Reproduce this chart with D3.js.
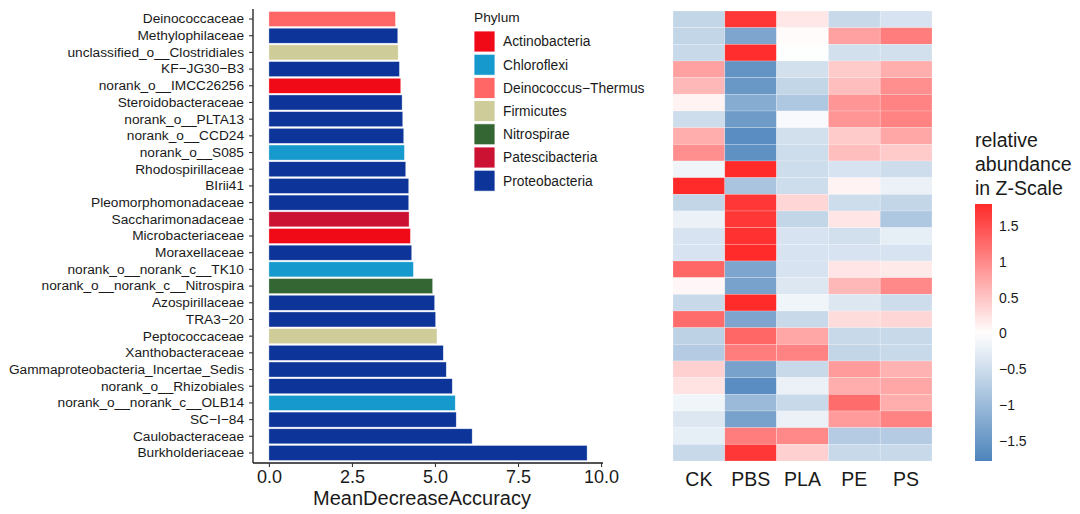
<!DOCTYPE html>
<html>
<head>
<meta charset="utf-8">
<script src="https://cdn.jsdelivr.net/npm/d3@7"></script>
<style>
  body { margin: 0; background: #fff; }
  text { font-family: "Liberation Sans", Arial, sans-serif; fill: #1a1a1a; }
</style>
</head>
<body>
<script>
// genera, top to bottom
const genera = ['Deinococcaceae', 'Methylophilaceae', 'unclassified_o__Clostridiales', 'KF-JG30-B3',
    'norank_o__IMCC26256', 'Steroidobacteraceae', 'norank_o__PLTA13', 'norank_o__CCD24', 'norank_o__S085',
    'Rhodospirillaceae', 'BIrii41', 'Pleomorphomonadaceae', 'Saccharimonadaceae', 'Microbacteriaceae',
    'Moraxellaceae', 'norank_o__norank_c__TK10', 'norank_o__norank_c__Nitrospira', 'Azospirillaceae',
    'TRA3-20', 'Peptococcaceae', 'Xanthobacteraceae', 'Gammaproteobacteria_Incertae_Sedis',
    'norank_o__Rhizobiales', 'norank_o__norank_c__OLB14', 'SC-I-84', 'Caulobacteraceae', 'Burkholderiaceae'];

const meanDecreaseAccuracy = [3.81, 3.88, 3.89, 3.93, 3.97, 4.01, 4.03, 4.06, 4.08, 4.12, 4.21, 4.21, 4.22, 4.26,
    4.30, 4.35, 4.93, 4.99, 5.02, 5.06, 5.25, 5.34, 5.52, 5.61, 5.64, 6.12, 9.58];

const phylumOf = ['Deinococcus-Thermus', 'Proteobacteria', 'Firmicutes', 'Proteobacteria', 'Actinobacteria',
    'Proteobacteria', 'Proteobacteria', 'Proteobacteria', 'Chloroflexi', 'Proteobacteria', 'Proteobacteria',
    'Proteobacteria', 'Patescibacteria', 'Actinobacteria', 'Proteobacteria', 'Chloroflexi', 'Nitrospirae',
    'Proteobacteria', 'Proteobacteria', 'Firmicutes', 'Proteobacteria', 'Proteobacteria', 'Proteobacteria',
    'Chloroflexi', 'Proteobacteria', 'Proteobacteria', 'Proteobacteria'];

const phyla = ['Actinobacteria', 'Chloroflexi', 'Deinococcus-Thermus', 'Firmicutes', 'Nitrospirae', 'Patescibacteria', 'Proteobacteria'];
const phylumColors = ['#F00A18', '#1699CC', '#FF6666', '#CECC99', '#336633', '#CC1233', '#0D3599'];

const groups = ['CK', 'PBS', 'PLA', 'PE', 'PS'];

// z-scores, one row per genus, columns CK PBS PLA PE PS
const zScores = [
    [-0.60, 1.70, 0.20, -0.55, -0.40],
    [-0.60, -1.30, 0.03, 0.80, 1.10],
    [-0.55, 1.78, -0.02, -0.45, -0.45],
    [0.80, -1.55, -0.45, 0.45, 0.70],
    [0.60, -1.50, -0.60, 0.55, 0.95],
    [0.10, -1.20, -0.80, 0.90, 1.05],
    [-0.50, -1.45, -0.08, 0.90, 1.05],
    [0.70, -1.65, -0.45, 0.45, 0.75],
    [0.95, -1.60, -0.50, 0.55, 0.45],
    [-0.15, 1.80, -0.50, -0.40, -0.50],
    [1.80, -0.85, -0.50, 0.10, -0.20],
    [-0.60, 1.70, 0.35, -0.50, -0.60],
    [-0.20, 1.70, -0.60, 0.22, -0.80],
    [-0.40, 1.75, -0.40, -0.45, -0.25],
    [-0.40, 1.80, -0.40, -0.40, -0.40],
    [1.30, -1.30, -0.40, 0.22, 0.18],
    [0.07, -1.35, -0.35, 0.60, 1.00],
    [-0.55, 1.80, -0.15, -0.35, -0.50],
    [1.25, -1.30, -0.55, 0.30, 0.35],
    [-0.65, 1.30, 0.75, -0.55, -0.55],
    [-0.75, 1.10, 1.05, -0.60, -0.55],
    [0.40, -1.35, -0.55, 0.85, 0.65],
    [0.25, -1.65, -0.20, 0.70, 0.75],
    [-0.15, -1.00, -0.55, 1.25, 0.70],
    [-0.35, -1.35, -0.20, 0.85, 1.05],
    [-0.25, 1.10, 1.00, -0.75, -0.75],
    [-0.55, 1.70, 0.40, -0.55, -0.55]
];

const xTicks = [0, 2.5, 5, 7.5, 10];
const zTicks = [-1.5, -1, -0.5, 0, 0.5, 1, 1.5];

// ggplot prints hyphens in labels as minus signs
const minus = s => String(s).replace(/-/g, '\u2212');

const width = 1080, height = 514;
const svg = d3.select('body').append('svg')
    .attr('width', width)
    .attr('height', height);

// ---- bar panel ----
const maxVal = d3.max(meanDecreaseAccuracy);
const x = d3.scaleLinear()
    .domain([-0.05 * maxVal, maxVal * 1.05])
    .range([253, 603]);

const y = d3.scaleBand()
    .domain(genera)
    .range([9, 463])
    .paddingInner(0.1)
    .paddingOuter(0.15);

const phylumColor = d3.scaleOrdinal().domain(phyla).range(phylumColors);

svg.append('g')
    .selectAll('rect')
    .data(genera)
    .join('rect')
    .attr('x', x(0))
    .attr('y', d => y(d))
    .attr('width', (d, i) => x(meanDecreaseAccuracy[i]) - x(0))
    .attr('height', y.bandwidth())
    .attr('fill', (d, i) => phylumColor(phylumOf[i]))
    .attr('stroke', '#ffffff')
    .attr('stroke-opacity', 0.6)
    .attr('stroke-width', 0.6);

const axisY = svg.append('g')
    .attr('transform', 'translate(253,0)')
    .call(d3.axisLeft(y).tickSize(4).tickPadding(5).tickFormat(minus));
axisY.select('.domain').attr('stroke', '#1a1a1a').attr('stroke-width', 1.3)
    .attr('d', 'M0,9V463');
axisY.selectAll('.tick line').attr('stroke', '#333').attr('stroke-width', 1.1);
axisY.selectAll('text').style('font-size', '13.7px').attr('fill', '#1a1a1a');

const axisX = svg.append('g')
    .attr('transform', 'translate(0,463)')
    .call(d3.axisBottom(x).tickValues(xTicks).tickFormat(d3.format('.1f')).tickSize(4).tickPadding(3));
axisX.select('.domain').attr('stroke', '#1a1a1a').attr('stroke-width', 1.3)
    .attr('d', 'M253,0H603');
axisX.selectAll('.tick line').attr('stroke', '#333').attr('stroke-width', 1.1);
axisX.selectAll('text').style('font-size', '18px').attr('fill', '#1a1a1a');

svg.append('text')
    .attr('x', (253 + 603) / 2 - 6)
    .attr('y', 505)
    .attr('text-anchor', 'middle')
    .style('font-size', '20px')
    .text('MeanDecreaseAccuracy');

// ---- phylum legend ----
const legend = svg.append('g').attr('transform', 'translate(474,0)');
legend.append('text')
    .attr('x', 0).attr('y', 17).attr('dy', '0.35em')
    .style('font-size', '13.7px')
    .text('Phylum');
const keys = legend.selectAll('g.key')
    .data(phyla)
    .join('g')
    .classed('key', true)
    .attr('transform', (d, i) => 'translate(0,' + (31 + i * 23.2) + ')');
keys.append('rect')
    .attr('width', 21).attr('height', 21)
    .attr('fill', d => phylumColor(d))
    .attr('stroke', '#ffffff').attr('stroke-width', 0.8);
keys.append('text')
    .attr('x', 29).attr('y', 10.5).attr('dy', '0.35em')
    .style('font-size', '13.8px')
    .text(d => minus(d));

// ---- heatmap ----
const hx = d3.scaleBand().domain(groups).range([673, 932]);
const hy = d3.scaleBand().domain(genera).range([11, 461]);
const zColor = d3.scaleLinear()
    .domain([-1.8, 0, 1.8])
    .range(['#4B83BB', '#FFFFFF', '#FF2B2B'])
    .clamp(true);

const cells = [];
genera.forEach((g, i) => groups.forEach((c, j) => cells.push({ genus: g, group: c, z: zScores[i][j] })));

svg.append('g')
    .selectAll('rect')
    .data(cells)
    .join('rect')
    .attr('x', d => hx(d.group))
    .attr('y', d => hy(d.genus))
    .attr('width', hx.bandwidth())
    .attr('height', hy.bandwidth())
    .attr('fill', d => zColor(d.z))
    .attr('stroke', '#ffffff')
    .attr('stroke-opacity', 0.35)
    .attr('stroke-width', 0.6);

svg.append('g')
    .selectAll('text')
    .data(groups)
    .join('text')
    .attr('x', d => hx(d) + hx.bandwidth() / 2)
    .attr('y', 479)
    .attr('dy', '0.35em')
    .attr('text-anchor', 'middle')
    .style('font-size', '19.5px')
    .text(d => d);

// ---- z-scale colour bar ----
const zy = d3.scaleLinear().domain([-1.78, 1.81]).range([461, 204]);
const grad = svg.append('defs').append('linearGradient')
    .attr('id', 'zgrad')
    .attr('gradientUnits', 'userSpaceOnUse')
    .attr('x1', 0).attr('y1', zy(-1.78))
    .attr('x2', 0).attr('y2', zy(1.81));
d3.range(0, 1.0001, 0.05).forEach(t => {
    const v = -1.78 + t * (1.81 + 1.78);
    grad.append('stop').attr('offset', t).attr('stop-color', zColor(v));
});
svg.append('rect')
    .attr('x', 975).attr('y', zy(1.81))
    .attr('width', 17).attr('height', zy(-1.78) - zy(1.81))
    .attr('fill', 'url(#zgrad)');

svg.append('g')
    .selectAll('text')
    .data(zTicks)
    .join('text')
    .attr('x', 999)
    .attr('y', d => zy(d))
    .attr('dy', '0.35em')
    .style('font-size', '14px')
    .text(d => minus(d3.format('')(d)));

svg.append('g')
    .selectAll('text')
    .data(['relative', 'abundance', 'in Z-Scale'])
    .join('text')
    .attr('x', 975)
    .attr('y', (d, i) => 140 + i * 24)
    .attr('dy', '0.35em')
    .style('font-size', '19.5px')
    .text(d => d);
</script>
</body>
</html>
